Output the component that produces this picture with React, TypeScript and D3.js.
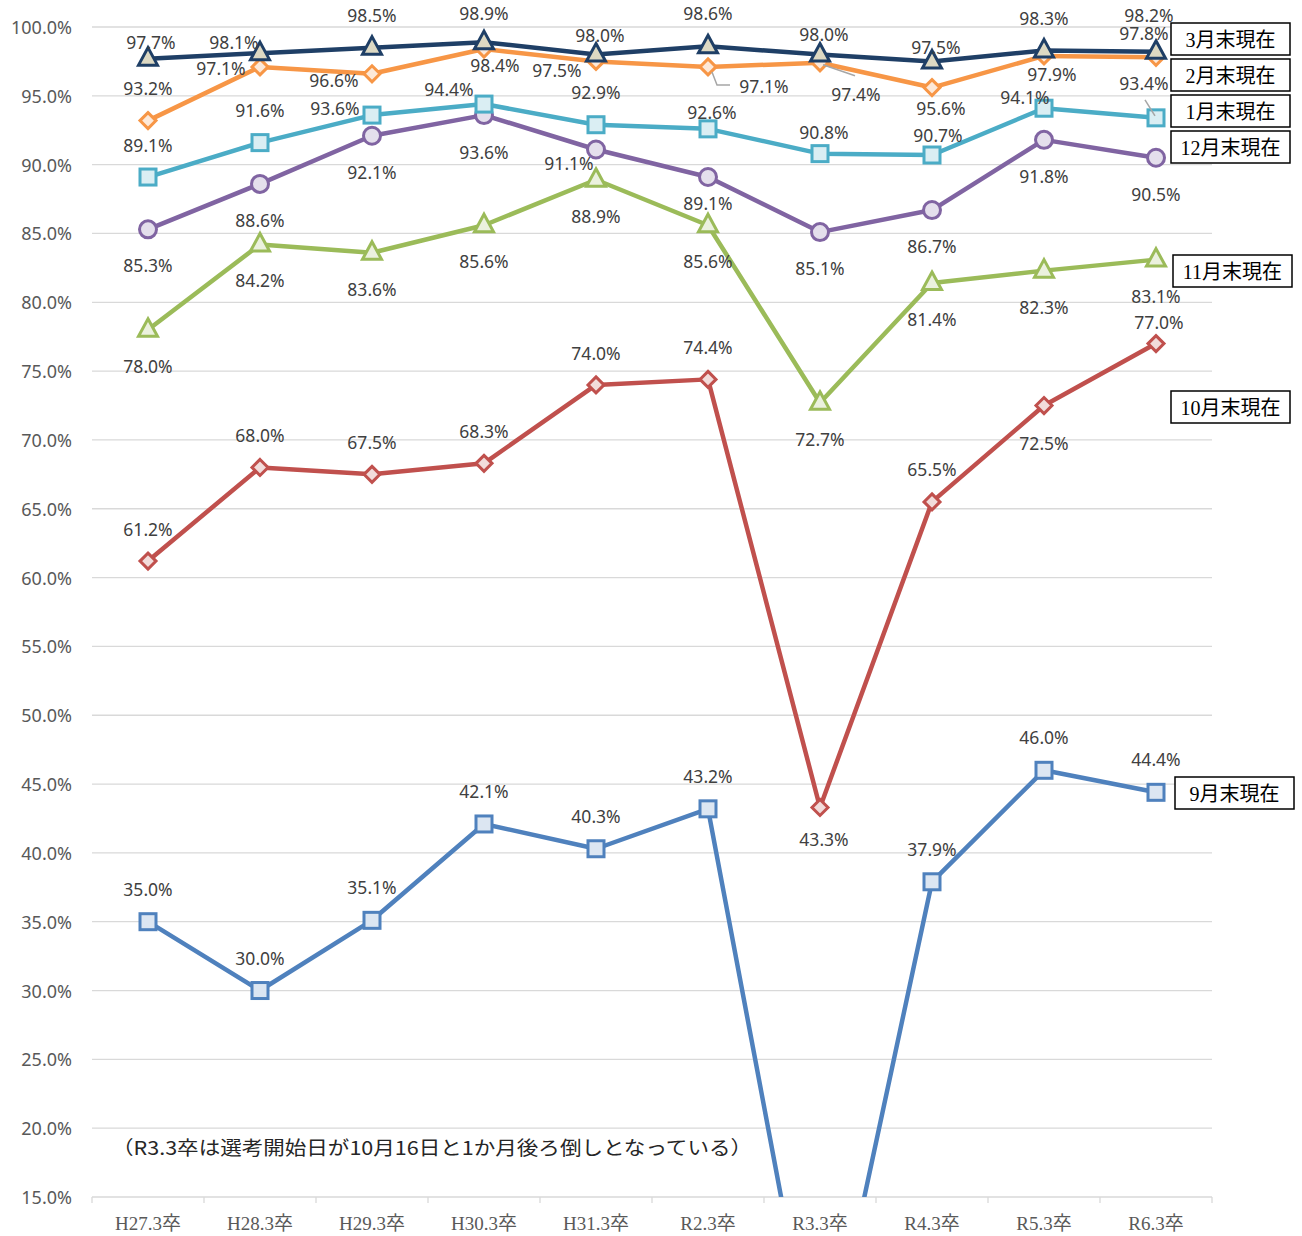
import React from 'react';
import * as d3 from 'd3';

// categories (graduating year)
const categories = ['H27.3卒', 'H28.3卒', 'H29.3卒', 'H30.3卒', 'H31.3卒', 'R2.3卒', 'R3.3卒', 'R4.3卒', 'R5.3卒', 'R6.3卒'];
const yTicks = [15, 20, 25, 30, 35, 40, 45, 50, 55, 60, 65, 70, 75, 80, 85, 90, 95, 100];

// job offer rate (%) at end of each month
const sep = [35.0, 30.0, 35.1, 42.1, 40.3, 43.2, 0.0, 37.9, 46.0, 44.4];
const oct = [61.2, 68.0, 67.5, 68.3, 74.0, 74.4, 43.3, 65.5, 72.5, 77.0];
const nov = [78.0, 84.2, 83.6, 85.6, 88.9, 85.6, 72.7, 81.4, 82.3, 83.1];
const dec = [85.3, 88.6, 92.1, 93.6, 91.1, 89.1, 85.1, 86.7, 91.8, 90.5];
const jan = [89.1, 91.6, 93.6, 94.4, 92.9, 92.6, 90.8, 90.7, 94.1, 93.4];
const feb = [93.2, 97.1, 96.6, 98.4, 97.5, 97.1, 97.4, 95.6, 97.9, 97.8];
const mar = [97.7, 98.1, 98.5, 98.9, 98.0, 98.6, 98.0, 97.5, 98.3, 98.2];

const note = '（R3.3卒は選考開始日が10月16日と1か月後ろ倒しとなっている）';

// label offsets from the marker (px), one per point
const up = (n) => [0, -33];
const down = (n) => [0, 36];
const labelOffsets = {
	sep: categories.map(up),
	oct: [[0, -32], [0, -32], [0, -32], [0, -32], [0, -32], [0, -32], [4, 32], [0, -33], [0, 37], [3, -22]],
	nov: categories.map(down),
	dec: [[0, 36], [0, 36], [0, 36], [0, 37], [-27, 13], [0, 26], [0, 36], [0, 36], [0, 36], [0, 36]],
	jan: [[0, -32], [0, -33], [-37, -7], [-35, -15], [0, -33], [4, -17], [4, -22], [6, -20], [-19, -11], [-12, -35]],
	feb: [[0, -33], [-39, 1], [-38, 6], [11, 16], [-39, 9], [56, 19], [36, 31], [9, 20], [8, 18], [-12, -24]],
	mar: [[3, -17], [-26, -11], [0, -33], [0, -29], [4, -20], [0, -33], [4, -21], [4, -14], [0, -32], [-7, -37]]
};

// leader lines drawn by excel for displaced labels (relative to the marker)
const leaders = [
	{ key: 'feb', i: 5, pts: [[4, 5], [9, 18], [22, 18]] },
	{ key: 'feb', i: 6, pts: [[3, 2], [35, 13]] },
	{ key: 'jan', i: 9, pts: [[-11, -18], [-1, -2]] }
];

const series = [
	{ key: 'sep', name: '9月末現在', values: sep, color: '#4F81BD', fill: '#DCE6F2', marker: 'square', legend: [1175, 777] },
	{ key: 'oct', name: '10月末現在', values: oct, color: '#C0504D', fill: '#F2DCDB', marker: 'diamond', legend: [1171, 391] },
	{ key: 'nov', name: '11月末現在', values: nov, color: '#9BBB59', fill: '#EBF1DE', marker: 'triangle', legend: [1173, 255] },
	{ key: 'dec', name: '12月末現在', values: dec, color: '#8064A2', fill: '#E4DFEC', marker: 'circle', legend: [1171, 131] },
	{ key: 'jan', name: '1月末現在', values: jan, color: '#4BACC6', fill: '#DAEEF3', marker: 'square', legend: [1171, 95] },
	{ key: 'feb', name: '2月末現在', values: feb, color: '#F79646', fill: '#FDE9D9', marker: 'diamond', legend: [1171, 59] },
	{ key: 'mar', name: '3月末現在', values: mar, color: '#1F3F66', fill: '#DDD9C3', marker: 'triangle', legend: [1171, 23] }
];

const W = 1302;
const H = 1236;
const plot = { left: 92, right: 1212, top: 27, bottom: 1197 };

const labelFont = '"Noto Sans", sans-serif';
const serifFont = '"Liberation Serif", "Noto Sans CJK JP", serif';

function Marker({ type, cx, cy, color, fill }) {
	const sw = 3;
	if (type === 'square') {
		return <rect x={cx - 8} y={cy - 8} width={16} height={16} fill={fill} stroke={color} strokeWidth={sw} />;
	}
	if (type === 'circle') {
		return <circle cx={cx} cy={cy} r={8.5} fill={fill} stroke={color} strokeWidth={sw} />;
	}
	if (type === 'diamond') {
		return <path d={`M${cx},${cy - 8}L${cx + 8},${cy}L${cx},${cy + 8}L${cx - 8},${cy}Z`} fill={fill} stroke={color} strokeWidth={sw} />;
	}
	// triangle
	return <path d={`M${cx},${cy - 11}L${cx + 9.5},${cy + 6.5}L${cx - 9.5},${cy + 6.5}Z`} fill={fill} stroke={color} strokeWidth={sw} strokeLinejoin="miter" />;
}

export default function App() {
	const x = d3.scaleBand().domain(categories).range([plot.left, plot.right]);
	const cx = (c) => x(c) + x.bandwidth() / 2;
	const y = d3.scaleLinear().domain([15, 100]).range([plot.bottom, plot.top]);

	const line = d3.line().x((d, i) => cx(categories[i])).y((d) => y(d));

	const bounds = [...categories.map((c) => x(c)), plot.right];

	return (
		<div style={{ position: 'absolute', left: 0, top: 0 }}>
			<svg width={W} height={H} style={{ display: 'block', background: '#fff' }}>
				<defs>
					<clipPath id="plot-clip">
						<rect x={plot.left - 20} y={0} width={plot.right - plot.left + 60} height={plot.bottom} />
					</clipPath>
				</defs>

				{/* grid */}
				<g>
					{yTicks.map((t) => (
						<line key={t} x1={plot.left} x2={plot.right} y1={y(t)} y2={y(t)} stroke="#D9D9D9" strokeWidth={1.3} />
					))}
					{bounds.map((b, i) => (
						<line key={i} x1={b} x2={b} y1={plot.bottom} y2={plot.bottom + 6} stroke="#D9D9D9" strokeWidth={1.3} />
					))}
				</g>

				{/* y axis labels */}
				<g fontFamily={labelFont} fontSize={18} fill="#595959" textAnchor="end">
					{yTicks.map((t) => (
						<text key={t} x={72} y={y(t)} dominantBaseline="central">{t.toFixed(1)}%</text>
					))}
				</g>

				{/* x axis labels */}
				<g fontFamily={serifFont} fontSize={19} fill="#595959" textAnchor="middle">
					{categories.map((c) => (
						<text key={c} x={cx(c)} y={1230}>{c}</text>
					))}
				</g>

				{/* note */}
				<text x={112} y={1146} fontFamily='"Noto Sans CJK JP", sans-serif' fontSize={19} fill="#262626"
					dominantBaseline="central" textLength={640} lengthAdjust="spacingAndGlyphs">{note}</text>

				{/* lines + markers */}
				<g clipPath="url(#plot-clip)">
					{series.map((s) => (
						<g key={s.key}>
							<path d={line(s.values)} fill="none" stroke={s.color} strokeWidth={4.5} strokeLinejoin="round" />
							{s.values.map((v, i) => (
								<Marker key={i} type={s.marker} cx={cx(categories[i])} cy={y(v)} color={s.color} fill={s.fill} />
							))}
						</g>
					))}
				</g>

				{/* leader lines */}
				{leaders.map((l, j) => {
					const s = series.find((d) => d.key === l.key);
					const px = cx(categories[l.i]);
					const py = y(s.values[l.i]);
					return (
						<polyline key={j} points={l.pts.map((p) => `${px + p[0]},${py + p[1]}`).join(' ')}
							fill="none" stroke="#A6A6A6" strokeWidth={1.5} />
					);
				})}

				{/* data labels */}
				<g fontFamily={labelFont} fontSize={17.5} fill="#404040" textAnchor="middle">
					{series.map((s) =>
						s.values.map((v, i) => {
							if (v < 15) return null;
							const off = labelOffsets[s.key][i];
							return (
								<text key={s.key + i} x={cx(categories[i]) + off[0]} y={y(v) + off[1]} dominantBaseline="central">
									{v.toFixed(1)}%
								</text>
							);
						})
					)}
				</g>

				{/* series name boxes */}
				<g>
					{series.map((s) => (
						<g key={s.key} transform={`translate(${s.legend[0]},${s.legend[1]})`}>
							<rect width={119} height={32} fill="#fff" stroke="#000" strokeWidth={1.5} />
							<text x={59.5} y={17} textAnchor="middle" dominantBaseline="central" fontFamily={serifFont} fontSize={20} fill="#000">
								{s.name}
							</text>
						</g>
					))}
				</g>
			</svg>
		</div>
	);
}
